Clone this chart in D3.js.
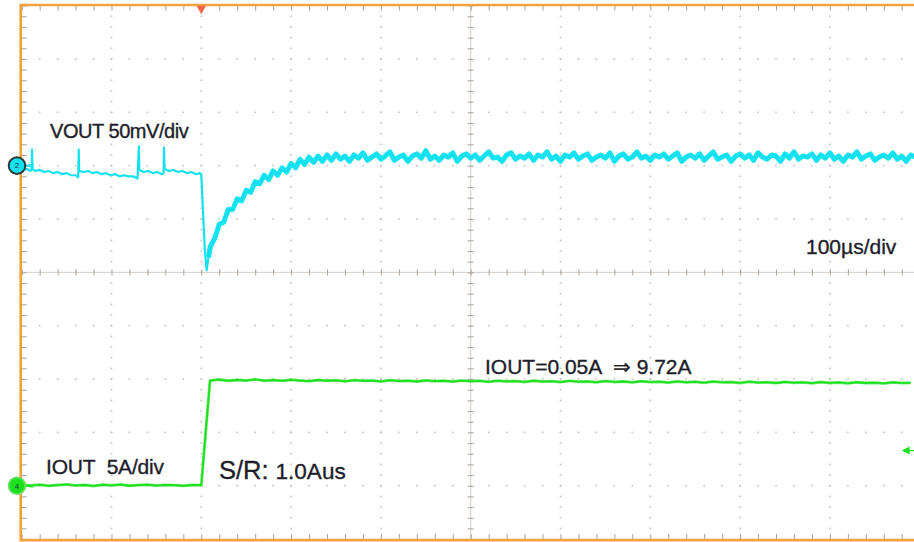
<!DOCTYPE html>
<html>
<head>
<meta charset="utf-8">
<script src="https://cdn.jsdelivr.net/npm/d3@7"></script>
<style>
  html, body { margin: 0; padding: 0; background: #fff; }
  svg { display: block; }
  text { font-family: "Liberation Sans", Arial, sans-serif; fill: #1e1e2a; stroke: #1e1e2a; stroke-width: 0.35px; }
</style>
</head>
<body>
<svg id="scope" width="914" height="542"></svg>
<script>
// ---- Acquisition settings -------------------------------------------------
const timeDomain = [-200, 800];   // µs, 100 µs/div, trigger at t = 0
const voutDomain = [150, -350];   // mV, 50 mV/div (top -> bottom)
const ioutDomain = [45, -5];      // A, 5 A/div (top -> bottom)

// ---- VOUT (CH2), mV relative to channel offset ----------------------------
// before the load step: slow sag with switching spikes, [t µs, mV]
const voutPre = [
  [-200,-2],[-197,-4],[-194,-3],[-191,-5],[-189,-4],[-188.5,15],[-188,-3],
  [-185,-5],[-180,-4],[-175,-6],[-170,-5],[-165,-7],[-160,-6],[-155,-8],
  [-150,-7],[-145,-9],[-140,-9],[-137,-11],[-136.5,15],[-136,-5],[-131,-6],
  [-126,-5],[-121,-7],[-116,-6],[-111,-8],[-106,-7],[-101,-9],[-96,-8],
  [-91,-10],[-86,-9],[-81,-10],[-76,-10],[-71,-12],[-69.5,18],[-69,-4],[-64,-6],
  [-59,-5],[-54,-7],[-49,-6],[-44,-8],[-42,-7],[-41.5,17],[-41,-3],[-36,-5],
  [-31,-4],[-26,-6],[-21,-5],[-16,-7],[-11,-6],[-6,-8],[-2,-7],[0,-8]
];
// undershoot at the load step
const voutDip = [[2,-45],[4,-80],[6,-98],[8,-86]];
// recovery and steady state, one sample every 5 µs from t = 10 µs
const voutSampleStart = 10, voutSampleStep = 5;
const voutPost = [
  -76,-68,-55,-53,-41,-41,-31,-33,-23,-25,-15,-17,-9,-13,-5,-9,-2,-6,2,-2,
  6,1,8,3,9,4,10,5,
  11,6,9,4,10,7,12,5,8,11,6,9,13,5,8,10,4,9,11,7,14,6,9,5,10,8,12,4,9,11,
  7,10,5,9,13,7,8,4,10,12,6,9,7,11,5,10,8,13,6,9,4,10,8,12,6,9,11,5,8,10,
  7,12,4,9,11,6,8,13,7,9,5,10,8,11,6,9,12,4,8,10,7,11,5,9,13,6,8,10,4,9,
  11,7,10,5,12,8,6,10,9,4,11,7,13,6,9,8,11,5,10,7,12,6,9,4,10,8,13,6,9,11,
  5,8,10,7,12,6,9,4,10,8
];

// ---- IOUT (CH4), A ----------------------------------------------------------
// idle current, one sample every 10 µs from t = -200 µs to 0
const ioutPre = [
  0.08,0.02,0.10,-0.01,0.06,0.12,0.03,0.07,-0.02,0.09,
  0.04,0.11,0.00,0.06,0.10,0.02,0.08,0.05,-0.01,0.07,0.05
];
// 1.0 A/µs ramp up to full load
const ioutRise = [[9.7, 9.85]];
// loaded, one sample every 10 µs from t = 20 µs
const ioutSampleStart = 20, ioutSampleStep = 10;
const ioutPost = [
  9.95,9.84,9.92,9.86,9.97,9.85,9.90,9.83,9.93,9.86,9.80,9.91,9.84,9.88,9.79,
  9.90,9.83,9.86,9.78,9.89,9.81,9.85,9.77,9.87,9.80,9.84,9.76,9.86,9.79,9.83,
  9.74,9.85,9.78,9.81,9.73,9.84,9.76,9.80,9.72,9.83,9.75,9.78,9.70,9.81,9.73,
  9.77,9.69,9.80,9.72,9.75,9.67,9.78,9.70,9.74,9.66,9.76,9.69,9.72,9.64,9.75,
  9.67,9.71,9.63,9.73,9.66,9.69,9.61,9.72,9.64,9.68,9.60,9.70,9.63,9.66,9.59,
  9.69,9.62,9.65
];

// ---- Annotations ------------------------------------------------------------
const labels = [
  { text: "VOUT 50mV/div", x: 50, y: 137.5, size: 20, spacing: -0.45 },
  { text: "100µs/div", x: 806, y: 253.5, size: 21, spacing: 0 },
  { text: "IOUT=0.05A \u00a0\u21d2 9.72A", x: 485, y: 373.5, size: 21, spacing: 0 },
  { text: "IOUT\u00a0 5A/div", x: 46, y: 473.5, size: 21, spacing: -0.2 }
];

// ---- Layout -----------------------------------------------------------------
const svg = d3.select("#scope");
const W = 914, H = 542;
const gLeft = 21.7, gRight = 919.7, gTop = 5.6, gBottom = 539.1;

const xDiv = d3.scaleLinear([0, 10], [gLeft, gRight]);
const yDiv = d3.scaleLinear([0, 10], [gTop, gBottom]);
const x = d3.scaleLinear(timeDomain, [gLeft, gRight]);
const yV = d3.scaleLinear(voutDomain, [gTop, gBottom]);
const yI = d3.scaleLinear(ioutDomain, [gTop, gBottom]);

const minorX = d3.range(0, 51).map(k => k / 5);
const minorY = d3.range(0, 51).map(k => k / 5);
const majors = d3.range(1, 10).filter(d => d !== 5);

// graticule dots
const grid = svg.append("g").attr("fill", "#c4c1bd");
majors.forEach(i => {
  grid.selectAll(null).data(minorY).join("rect")
    .attr("x", xDiv(i) - 0.8).attr("y", d => yDiv(d) - 0.8)
    .attr("width", 1.6).attr("height", 1.6);
  grid.selectAll(null).data(minorX).join("rect")
    .attr("x", d => xDiv(d) - 0.8).attr("y", yDiv(i) - 0.8)
    .attr("width", 1.6).attr("height", 1.6);
});

// centre cross with tick marks
const cross = svg.append("g");
cross.append("line")
  .attr("x1", xDiv(5)).attr("x2", xDiv(5)).attr("y1", gTop).attr("y2", gBottom)
  .attr("stroke", "#d3cfc9").attr("stroke-width", 1);
cross.append("line")
  .attr("x1", gLeft).attr("x2", gRight).attr("y1", yDiv(5)).attr("y2", yDiv(5))
  .attr("stroke", "#d3cfc9").attr("stroke-width", 1);

function tickAxis(axis, tx, ty, values, size) {
  const g = svg.append("g")
    .attr("transform", `translate(${tx},${ty})`)
    .call(axis.tickValues(values).tickSize(size).tickFormat(""));
  g.select(".domain").remove();
  g.selectAll(".tick line").attr("stroke", "#a89f95").attr("stroke-width", 1);
  return g;
}
// centre horizontal line ticks (both sides)
tickAxis(d3.axisBottom(xDiv), 0, yDiv(5), minorX, 3);
tickAxis(d3.axisTop(xDiv), 0, yDiv(5), minorX, 3);
// centre vertical line ticks (both sides)
tickAxis(d3.axisRight(yDiv), xDiv(5), 0, minorY, 3);
tickAxis(d3.axisLeft(yDiv), xDiv(5), 0, minorY, 3);
// border ticks
tickAxis(d3.axisBottom(xDiv), 0, gTop, minorX, 5);
tickAxis(d3.axisTop(xDiv), 0, gBottom, minorX, 5);
tickAxis(d3.axisRight(yDiv), gLeft, 0, minorY, 5);

// orange frame
const frame = svg.append("g").attr("stroke", "#f3a33c").attr("stroke-width", 2.6).attr("fill", "none");
frame.append("path").attr("d", `M${W + 5},${gTop - 0.6}H${gLeft - 1}V${gBottom + 1}H${W + 5}`);

// ---- Traces -----------------------------------------------------------------
const voutData = voutPre
  .concat(voutDip)
  .concat(voutPost.map((v, i) => [voutSampleStart + i * voutSampleStep, v]));
const ioutData = ioutPre.map((v, i) => [-200 + i * 10, v])
  .concat(ioutRise)
  .concat(ioutPost.map((v, i) => [ioutSampleStart + i * ioutSampleStep, v]));

svg.append("clipPath").attr("id", "screen")
  .append("rect").attr("x", gLeft).attr("y", gTop).attr("width", gRight - gLeft).attr("height", gBottom - gTop);

const traces = svg.append("g").attr("clip-path", "url(#screen)");
const voutLine = d3.line().x(d => x(d[0])).y(d => yV(d[1]));
const ioutLine = d3.line().x(d => x(d[0])).y(d => yI(d[1]));

// noise band (wide stroke) under each trace, then the trace itself
traces.append("path")
  .datum(voutData.filter(d => d[0] >= 8))
  .attr("fill", "none").attr("stroke", "#14e3f0")
  .attr("stroke-width", 5).attr("stroke-linejoin", "round")
  .attr("d", voutLine);
traces.append("path")
  .datum(voutData)
  .attr("fill", "none").attr("stroke", "#12e2ef")
  .attr("stroke-width", 2.2).attr("stroke-linejoin", "round")
  .attr("d", voutLine);

traces.append("path")
  .datum(ioutData)
  .attr("fill", "none").attr("stroke", "#1de01d").attr("stroke-opacity", 0.6)
  .attr("stroke-width", 3).attr("stroke-linejoin", "round")
  .attr("d", ioutLine);
traces.append("path")
  .datum(ioutData)
  .attr("fill", "none").attr("stroke", "#1de01d")
  .attr("stroke-width", 1.8).attr("stroke-linejoin", "round")
  .attr("d", ioutLine);

// ---- Markers ----------------------------------------------------------------
// trigger position
svg.append("path")
  .attr("d", d3.symbol(d3.symbolTriangle, 40)())
  .attr("transform", `translate(${x(0)},${gTop + 3}) rotate(180)`)
  .attr("fill", "#f2674a");

// trigger level (right edge)
svg.append("path")
  .attr("d", `M${W - 11},${yI(3.3)}l6,-3v6z M${W - 6},${yI(3.3)}H${W}`)
  .attr("fill", "#1de01d").attr("stroke", "#1de01d").attr("stroke-width", 1.2);

// channel offset markers
function channelMarker(cy, fill, ring, label) {
  const g = svg.append("g").attr("transform", `translate(17,${cy})`);
  g.append("circle").attr("r", 8.3).attr("fill", fill).attr("stroke", ring).attr("stroke-width", 2);
  g.append("text").text(label).attr("text-anchor", "middle").attr("dy", "0.35em")
    .attr("font-size", 8).style("fill", "#1a3a3a").style("stroke", "none");
}
svg.append("path").attr("d", `M24,${yV(0)}l10,-1.5M24,${yV(0)}l10,1.5`)
  .attr("stroke", "#12e2ef").attr("stroke-width", 1.2).attr("fill", "none");
channelMarker(yV(0), "#12e2ef", "#2b3b3b", "2");
svg.append("path").attr("d", `M24,${yI(0)}l9,1.5`)
  .attr("stroke", "#1de01d").attr("stroke-width", 1.2).attr("fill", "none");
channelMarker(yI(0), "#1de01d", "#5ee05e", "4");

// ---- Text -------------------------------------------------------------------
svg.append("g").selectAll("text").data(labels).join("text")
  .attr("x", d => d.x).attr("y", d => d.y)
  .attr("font-size", d => d.size)
  .attr("letter-spacing", d => d.spacing)
  .text(d => d.text);

const sr = svg.append("text").attr("x", 219).attr("y", 479);
sr.append("tspan").attr("font-size", 25.5).text("S/R:");
sr.append("tspan").attr("font-size", 22.5).attr("dx", 7).text("1.0Aus");
</script>
</body>
</html>
